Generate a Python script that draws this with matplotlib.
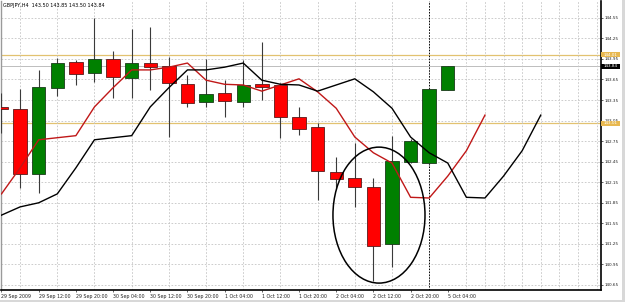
import matplotlib
matplotlib.use('Agg')
import matplotlib.pyplot as plt
import numpy as np
from matplotlib.patches import Ellipse, Rectangle
from matplotlib.transforms import blended_transform_factory

# ---------------- data ----------------
title_text = "GBPJPY,H4  143.50 143.85 143.50 143.84"

opens = [143.25, 143.22, 142.27, 143.53, 143.90, 143.74, 143.95, 143.67, 143.89, 143.85,
         143.58, 143.32, 143.45, 143.32, 143.58, 143.57, 143.10, 142.96, 142.30, 142.21,
         142.08, 141.25, 142.45, 142.43, 143.50]
highs = [143.45, 143.51, 143.79, 143.96, 143.93, 144.55, 144.07, 144.39, 144.42, 143.98,
         143.72, 143.95, 143.64, 143.93, 144.20, 143.60, 143.25, 143.02, 142.52, 142.72,
         142.21, 142.83, 142.78, 143.53, 143.85]
lows = [142.87, 142.07, 141.99, 143.41, 143.57, 143.61, 143.38, 143.38, 143.50, 142.81,
        143.25, 143.25, 143.10, 143.25, 143.35, 142.80, 142.84, 141.89, 142.07, 141.79,
        140.71, 140.91, 142.43, 142.40, 143.50]
closes = [143.22, 142.27, 143.54, 143.89, 143.73, 143.95, 143.69, 143.89, 143.83, 143.60,
          143.31, 143.44, 143.34, 143.57, 143.54, 143.10, 142.93, 142.31, 142.20, 142.08,
          141.22, 142.46, 142.75, 143.51, 143.84]

# moving average (red line, bars -3 .. 26); black line is the same values 3 bars later
ma_values = [141.67, 141.79, 141.85, 141.98, 142.36, 142.77, 142.80, 142.83, 143.25, 143.53,
             143.79, 143.79, 143.83, 143.89, 143.64, 143.58, 143.57, 143.48, 143.57, 143.66,
             143.47, 143.23, 142.81, 142.58, 142.43, 141.93, 141.92, 142.24, 142.61, 143.13]
red_first_bar = -3
black_first_bar = 0

time_labels = ["29 Sep 2009", "29 Sep 12:00", "29 Sep 20:00", "30 Sep 04:00", "30 Sep 12:00",
               "30 Sep 20:00", "1 Oct 04:00", "1 Oct 12:00", "1 Oct 20:00", "2 Oct 04:00",
               "2 Oct 12:00", "2 Oct 20:00", "5 Oct 04:00"]
price_ticks = [140.65, 140.95, 141.25, 141.55, 141.85, 142.15, 142.45, 142.75,
               143.05, 143.35, 143.65, 143.95, 144.25, 144.55]
gold_levels = [144.01, 143.01]
last_price = 143.84
cursor_bar = 23
circle_center = (20.3, 141.67)
circle_size = (4.95, 1.985)

# ---------------- figure ----------------
W, H = 625, 302
fig = plt.figure(figsize=(W / 100, H / 100), dpi=100)
fig.patch.set_facecolor('white')
# window frame strips
fig.patches.append(Rectangle((0, 0), 1, 2.5 / H, transform=fig.transFigure,
                             facecolor='#D8D8D8', edgecolor='none', zorder=0))
fig.patches.append(Rectangle((621.5 / W, 0), 3.5 / W, 1, transform=fig.transFigure,
                             facecolor='#D8D8D8', edgecolor='none', zorder=0))

ax = fig.add_axes([1.5 / W, 1 - 289.5 / H, (601 - 1.5) / W, (289.5 - 1) / H])
ax.set_facecolor('white')
ax.set_xlim(0.005, 32.24)
ax.set_ylim(140.584, 144.796)

# grid
ax.set_yticks(price_ticks)
ax.set_yticklabels([f"{p:.2f}" for p in price_ticks])
label_bars = np.arange(0, 2 * len(time_labels), 2)
ax.set_xticks(label_bars)
ax.set_xticklabels(time_labels, ha='left')
ax.set_xticks(np.arange(0, 33), minor=True)
ax.grid(True, which='major', axis='y', color='#C4C4C4', lw=0.6, ls=(0, (2, 2)), zorder=0)
ax.grid(True, which='minor', axis='x', color='#C4C4C4', lw=0.6, ls=(0, (2, 2)), zorder=0)
ax.grid(False, which='major', axis='x')

# level lines
for lv in gold_levels:
    ax.axhline(lv, color='#E2C270', lw=0.9, zorder=1)
ax.axhline(last_price, color='#BDBDBD', lw=0.7, zorder=1)

# cursor line
ax.axvline(cursor_bar, color='black', lw=0.7, ls=(0, (1.5, 1.5)), zorder=2)

# candles
o = np.array(opens); c = np.array(closes); hi = np.array(highs); lo = np.array(lows)
x = np.arange(len(o))
up = c >= o
body_col = np.where(up, '#008000', '#FF0000')
edge_col = np.where(up, '#1A3A1A', '#5A1A1A')
ax.vlines(x, lo, hi, color='#3A3A3A', lw=0.8, zorder=3)
ax.bar(x, np.maximum(np.abs(c - o), 0.02), bottom=np.minimum(o, c), width=0.72,
       color=body_col, edgecolor=edge_col, linewidth=0.6, zorder=4)

# moving averages
ma = np.array(ma_values)
ax.plot(np.arange(len(ma)) + red_first_bar, ma, color='#C01818', lw=1.0, zorder=5)
ax.plot(np.arange(len(ma)) + black_first_bar, ma, color='black', lw=1.0, zorder=5)

# ellipse annotation
ax.add_patch(Ellipse(circle_center, circle_size[0], circle_size[1], fill=False,
                     edgecolor='black', lw=1.1, zorder=6))

# spines / ticks
ax.spines['top'].set_visible(False)
ax.spines['left'].set_color('#9A9A9A')
ax.spines['left'].set_linewidth(1.0)
ax.spines['right'].set_color('black')
ax.spines['right'].set_linewidth(1.2)
ax.spines['bottom'].set_color('black')
ax.spines['bottom'].set_linewidth(1.2)
ax.yaxis.tick_right()
ax.tick_params(axis='y', which='major', length=1.5, width=0.5, labelsize=3.0, pad=1.2,
               colors='#222222')
ax.tick_params(axis='x', which='major', length=1.5, width=0.5, labelsize=3.4, pad=1.5,
               colors='#222222')
ax.tick_params(axis='x', which='minor', length=0)

# right-side price boxes
trans = blended_transform_factory(ax.transAxes, ax.transData)
box_w = 19 / 599.5
box_h = 0.07
for lv, fc, tc in [(gold_levels[0], '#E8B850', 'white'), (gold_levels[1], '#E8B850', 'white'),
                   (last_price, 'black', 'white')]:
    ax.add_patch(Rectangle((1.0, lv - box_h / 2), box_w, box_h, transform=trans,
                           facecolor=fc, edgecolor='none', clip_on=False, zorder=10))
    ax.text(1.0 + box_w / 2, lv, f"{lv:.2f}", transform=trans, fontsize=3.0,
            color=tc, ha='center', va='center', clip_on=False, zorder=11)

fig.text(3 / W, 1 - 5.5 / H, title_text, fontsize=3.5, color='black', va='center', ha='left')

fig.savefig('out.png', dpi=100)
